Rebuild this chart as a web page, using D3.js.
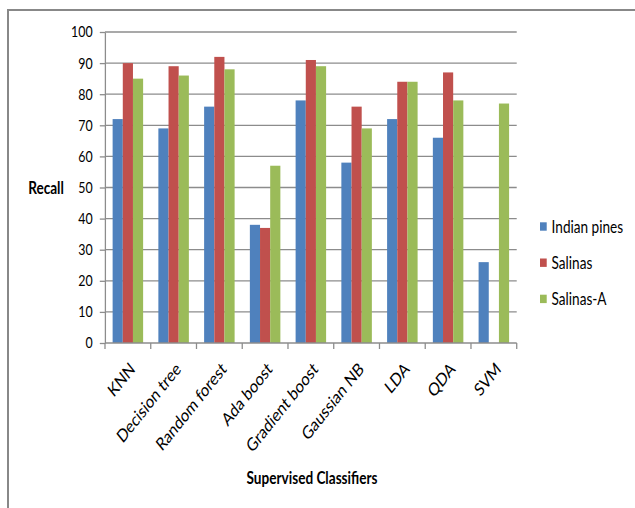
<!DOCTYPE html>
<html>
<head>
<meta charset="utf-8">
<script src="https://cdn.jsdelivr.net/npm/d3@7"></script>
<style>
  body { margin: 0; background: #fff; }
  svg { display: block; }
  text { font-family: Lato, "Open Sans", sans-serif; fill: #000; }
</style>
</head>
<body>
<script>
const classifiers = ['KNN', 'Decision tree', 'Random forest', 'Ada boost', 'Gradient boost', 'Gaussian NB', 'LDA', 'QDA', 'SVM'];
const seriesNames = ['Indian pines', 'Salinas', 'Salinas-A'];
const indianPines = [72, 69, 76, 38, 78, 58, 72, 66, 26];
const salinas = [90, 89, 92, 37, 91, 76, 84, 87, null];
const salinasA = [85, 86, 88, 57, 89, 69, 84, 78, 77];
const yTicks = [0, 10, 20, 30, 40, 50, 60, 70, 80, 90, 100];
const colors = ['#4f81bd', '#c0504d', '#9bbb59'];

// the picture is squeezed sideways, so draw wide and squash with the viewBox
const squeeze = 0.8,
  width = 635,
  height = 508,
  W = width / squeeze;

const plot = { left: 131.25, right: 645.9, top: 32, bottom: 343 };

const svg = d3.select('body')
  .append('svg')
  .attr('width', width)
  .attr('height', height)
  .attr('viewBox', `0 0 ${W} ${height}`)
  .attr('preserveAspectRatio', 'none');

// outer frame (top and left only)
svg.append('line')
  .attr('x1', 9).attr('x2', W).attr('y1', 10).attr('y2', 10)
  .attr('stroke', '#888').attr('stroke-width', 2);
svg.append('line')
  .attr('x1', 10).attr('x2', 10).attr('y1', 9).attr('y2', height)
  .attr('stroke', '#888').attr('stroke-width', 2.5);

const x = d3.scaleBand()
  .domain(classifiers)
  .range([plot.left, plot.right])
  .paddingInner(1.5 / 4.5)
  .paddingOuter(0.75 / 4.5);

const xs = d3.scaleBand()
  .domain(seriesNames)
  .range([0, x.bandwidth()]);

const y = d3.scaleLinear()
  .domain([0, 100])
  .range([plot.bottom, plot.top]);

// gridlines
svg.append('g')
  .selectAll('line')
  .data(yTicks.filter(d => d > 0))
  .enter().append('line')
  .attr('x1', plot.left)
  .attr('x2', plot.right)
  .attr('y1', d => y(d))
  .attr('y2', d => y(d))
  .attr('stroke', '#8c8c8c')
  .attr('stroke-width', 1.3);

// y axis
const yAxis = svg.append('g')
  .attr('transform', `translate(${plot.left},0)`)
  .call(d3.axisLeft(y).tickValues(yTicks).tickSize(6.5).tickSizeOuter(0).tickPadding(9));
yAxis.select('.domain').attr('stroke', '#8c8c8c').attr('stroke-width', 1.6);
yAxis.selectAll('.tick line').attr('stroke', '#8c8c8c').attr('stroke-width', 1.3);
yAxis.selectAll('.tick text')
  .attr('font-family', 'Lato, "Open Sans", sans-serif')
  .attr('font-size', 15.5)
  .attr('fill', '#000');

// bars
const rows = classifiers.map((c, i) => ({
  name: c,
  values: [indianPines[i], salinas[i], salinasA[i]]
}));

const groups = svg.append('g')
  .selectAll('g')
  .data(rows)
  .enter().append('g')
  .attr('transform', d => `translate(${x(d.name)},0)`);

groups.selectAll('rect')
  .data(d => d.values.map((v, j) => ({ series: seriesNames[j], value: v, color: colors[j] })).filter(d => d.value != null))
  .enter().append('rect')
  .attr('x', d => xs(d.series))
  .attr('width', xs.bandwidth())
  .attr('y', d => y(d.value))
  .attr('height', d => y(0) - y(d.value))
  .attr('fill', d => d.color);

// x axis line and category boundary ticks
svg.append('line')
  .attr('x1', plot.left).attr('x2', plot.right)
  .attr('y1', plot.bottom).attr('y2', plot.bottom)
  .attr('stroke', '#8c8c8c').attr('stroke-width', 1.6);

svg.append('g')
  .selectAll('line')
  .data(d3.range(classifiers.length + 1))
  .enter().append('line')
  .attr('x1', i => plot.left + i * x.step())
  .attr('x2', i => plot.left + i * x.step())
  .attr('y1', plot.bottom)
  .attr('y2', plot.bottom + 6)
  .attr('stroke', '#8c8c8c')
  .attr('stroke-width', 1.6);

// category labels
svg.append('g')
  .selectAll('text')
  .data(classifiers)
  .enter().append('text')
  .attr('transform', d => `translate(${x(d) + x.bandwidth() / 2 + 1},${plot.bottom + 18}) rotate(-45)`)
  .attr('text-anchor', 'end')
  .attr('dy', '0.72em')
  .attr('font-size', 18)
  .text(d => d);

// axis titles
svg.append('text')
  .attr('x', 57.5)
  .attr('y', 188)
  .attr('dy', '0.35em')
  .attr('text-anchor', 'middle')
  .attr('font-size', 17)
  .attr('font-weight', 'bold')
  .text('Recall');

svg.append('text')
  .attr('x', 390)
  .attr('y', 484)
  .attr('text-anchor', 'middle')
  .attr('font-size', 17)
  .attr('font-weight', 'bold')
  .text('Supervised Classifiers');

// legend
const legend = svg.append('g')
  .selectAll('g')
  .data(seriesNames)
  .enter().append('g')
  .attr('transform', (d, i) => `translate(675,${226.5 + i * 36.2})`);

legend.append('rect')
  .attr('x', 0)
  .attr('y', -4.2)
  .attr('width', 8.4)
  .attr('height', 8.4)
  .attr('fill', (d, i) => colors[i]);

legend.append('text')
  .attr('x', 14.5)
  .attr('dy', '0.36em')
  .attr('font-size', 17)
  .text(d => d);
</script>
</body>
</html>
